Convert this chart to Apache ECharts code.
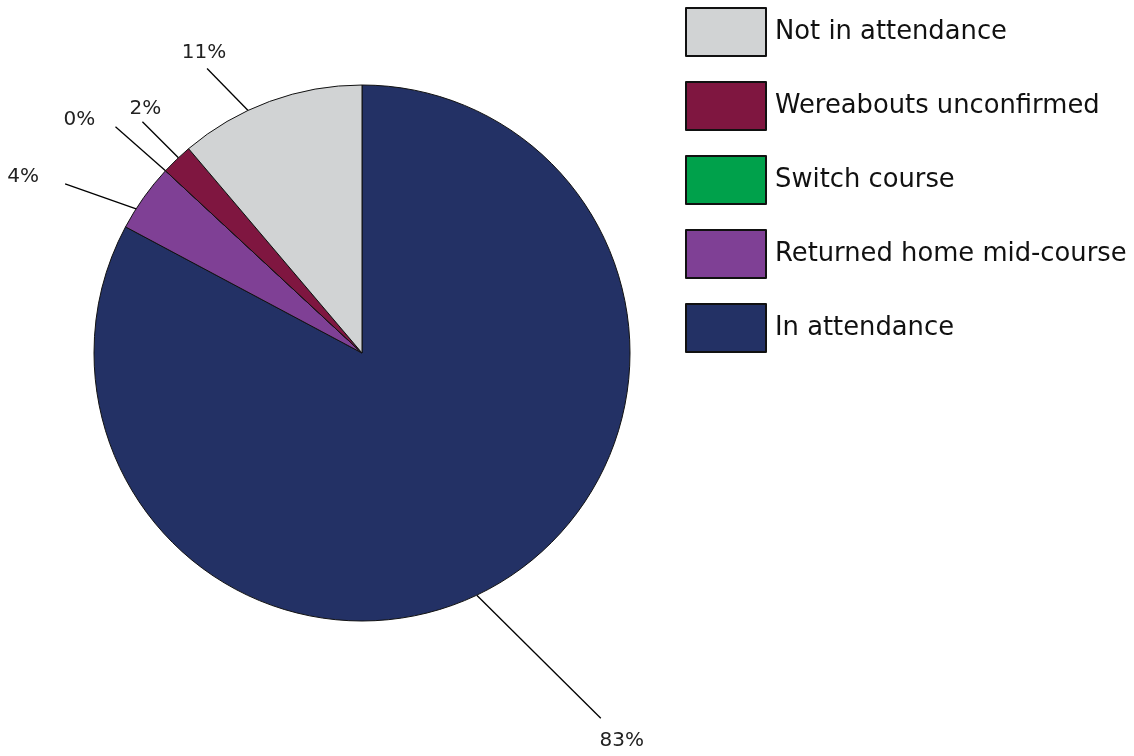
<!DOCTYPE html>
<html>
<head>
<meta charset="utf-8">
<script src="https://cdn.jsdelivr.net/npm/echarts@6/dist/echarts.min.js"></script>
<style>
html,body{margin:0;padding:0;background:#fff;}
#chart{width:1134px;height:756px;}
</style>
</head>
<body>
<div id="chart"></div>
<script>
// Data (clockwise from 12 o'clock)
const categories = ["In attendance", "Returned home mid-course", "Switch course", "Wereabouts unconfirmed", "Not in attendance"];
const values = [82.8, 4.1, 0, 1.9, 11.2];
const legendOrder = ["Not in attendance", "Wereabouts unconfirmed", "Switch course", "Returned home mid-course", "In attendance"];
const colors = ["#233165", "#7F4095", "#00A14B", "#7F1640", "#D1D3D4"];

// Leader-line styling per slice (angle shift of the start point along the rim, leader vector, text offset)
const leaderStyle = [
  { shift: 5.6,  vec: [124, 123], text: [21, 23] },
  { shift: -2.9, vec: [-71, -25], text: [-42, -7] },
  { shift: 0,    vec: [-50, -44], text: [-36, -7] },
  { shift: 0.5,  vec: [-36, -36], text: [3, -13] },
  { shift: -5.0, vec: [-41, -42], text: [-3, -16] }
];
const CX = 362, CY = 353;

const chart = echarts.init(document.getElementById('chart'));
const font = "'DejaVu Sans', Verdana, sans-serif";
chart.setOption({
  animation: false,
  legend: {
    orient: 'vertical',
    left: 680,
    top: 2,
    data: legendOrder,
    itemWidth: 80,
    itemHeight: 48,
    itemGap: 24,
    icon: 'rect',
    selectedMode: false,
    textStyle: { fontFamily: font, fontSize: 25.8, color: '#111', padding: [0, 0, 0, 4] }
  },
  series: [{
    type: 'pie',
    center: [CX, CY],
    radius: 268,
    startAngle: 90,
    clockwise: true,
    avoidLabelOverlap: false,
    itemStyle: { borderColor: '#111', borderWidth: 1 },
    label: {
      show: true,
      position: 'outside',
      fontFamily: font,
      fontSize: 20,
      color: '#222',
      formatter: p => Math.round(p.percent) + '%'
    },
    labelLine: { show: true, length: 30, length2: 0, lineStyle: { color: '#000', width: 1.3 } },
    labelLayout: function (p) {
      const s = leaderStyle[p.dataIndex];
      const pts = p.labelLinePoints;
      if (!s || !pts) return {};
      const a = s.shift * Math.PI / 180;
      const x0 = pts[0][0] - CX, y0 = pts[0][1] - CY;
      const xs = CX + x0 * Math.cos(a) - y0 * Math.sin(a);
      const ys = CY + x0 * Math.sin(a) + y0 * Math.cos(a);
      const ex = xs + s.vec[0], ey = ys + s.vec[1];
      return {
        x: ex + s.text[0],
        y: ey + s.text[1],
        align: 'center',
        verticalAlign: 'middle',
        labelLinePoints: [[xs, ys], [ex, ey], [ex, ey]]
      };
    },
    data: categories.map((c, i) => ({ name: c, value: values[i], itemStyle: { color: colors[i] } }))
  }]
});
</script>
</body>
</html>
